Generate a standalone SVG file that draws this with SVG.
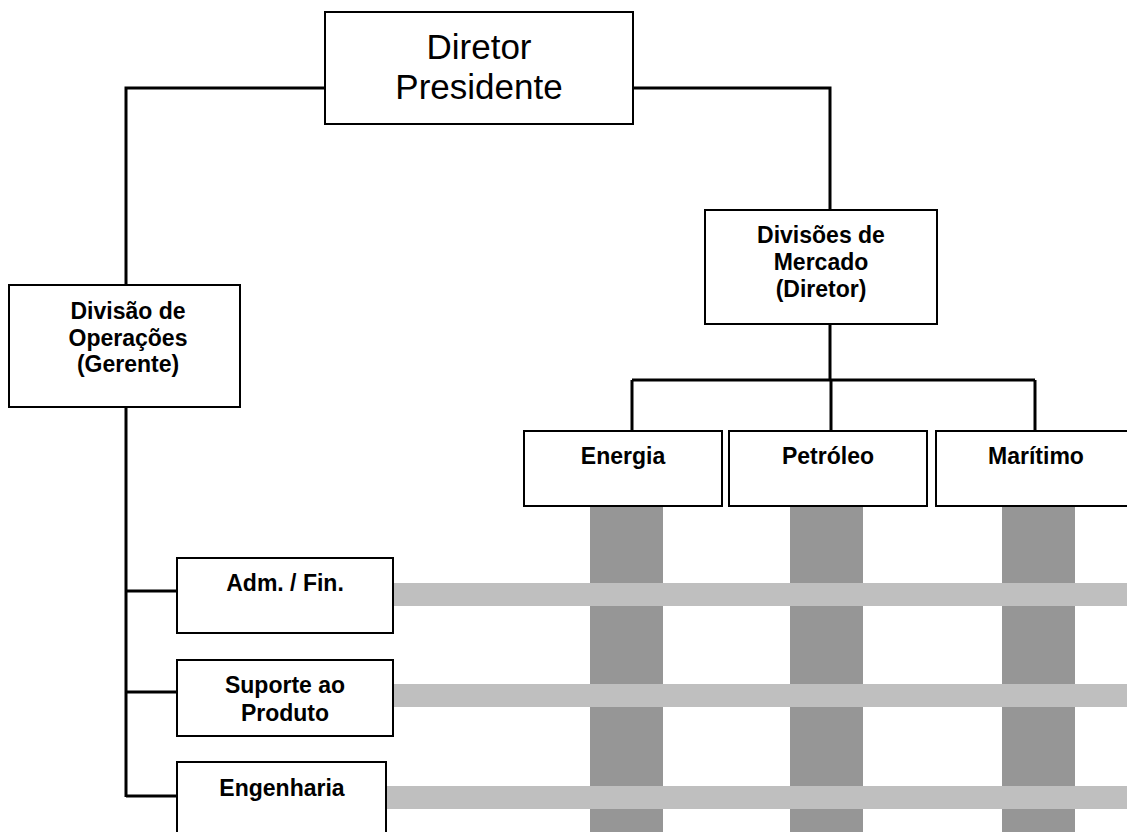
<svg xmlns="http://www.w3.org/2000/svg" width="1127" height="832" viewBox="0 0 1127 832">
  <style>
    .box { fill: #ffffff; stroke: #000000; stroke-width: 2; }
    .link { fill: none; stroke: #000000; stroke-width: 3; }
    .col { fill: #969696; }
    .row { fill: #bfbfbf; }
    .title { font-family: "Liberation Sans", Arial, sans-serif; font-size: 35px; fill: #000000; text-anchor: middle; }
    .label { font-family: "Liberation Sans", Arial, sans-serif; font-size: 23px; font-weight: bold; fill: #000000; text-anchor: middle; }
  </style>

  <!-- matrix: market columns crossed by function rows -->
  <g id="matrix">
    <rect class="col" x="590" y="507" width="73" height="325"/>
    <rect class="col" x="790" y="507" width="73" height="325"/>
    <rect class="col" x="1002" y="507" width="73" height="325"/>
    <rect class="row" x="392" y="583" width="735" height="23"/>
    <rect class="row" x="392" y="684" width="735" height="23"/>
    <rect class="row" x="386" y="786" width="741" height="23"/>
  </g>

  <!-- connectors -->
  <g id="connectors">
    <path class="link" d="M325 88 H126 V285"/>
    <path class="link" d="M633 88 H830 V210"/>
    <path class="link" d="M830 324 V380"/>
    <path class="link" d="M632 380 H1035"/>
    <path class="link" d="M632 380 V431"/>
    <path class="link" d="M831 380 V431"/>
    <path class="link" d="M1035 380 V431"/>
    <path class="link" d="M126 407 V797"/>
    <path class="link" d="M126 591 H177"/>
    <path class="link" d="M126 692 H177"/>
    <path class="link" d="M126 796 H177"/>
  </g>

  <g id="diretor-presidente">
    <rect class="box" x="325" y="12" width="308" height="112"/>
    <text class="title" x="479" y="59">Diretor</text>
    <text class="title" x="479" y="99">Presidente</text>
  </g>

  <g id="divisao-operacoes">
    <rect class="box" x="9" y="285" width="231" height="122"/>
    <text class="label" x="128" y="319">Divisão de</text>
    <text class="label" x="128" y="346">Operações</text>
    <text class="label" x="128" y="372">(Gerente)</text>
  </g>

  <g id="divisoes-mercado">
    <rect class="box" x="705" y="210" width="232" height="114"/>
    <text class="label" x="821" y="243">Divisões de</text>
    <text class="label" x="821" y="270">Mercado</text>
    <text class="label" x="821" y="297">(Diretor)</text>
  </g>

  <g id="energia">
    <rect class="box" x="524" y="431" width="198" height="75"/>
    <text class="label" x="623" y="464">Energia</text>
  </g>

  <g id="petroleo">
    <rect class="box" x="729" y="431" width="198" height="75"/>
    <text class="label" x="828" y="464">Petróleo</text>
  </g>

  <g id="maritimo">
    <rect class="box" x="936" y="431" width="198" height="75"/>
    <text class="label" x="1036" y="464">Marítimo</text>
  </g>

  <g id="adm-fin">
    <rect class="box" x="177" y="558" width="216" height="75"/>
    <text class="label" x="285" y="591">Adm. / Fin.</text>
  </g>

  <g id="suporte-produto">
    <rect class="box" x="177" y="660" width="216" height="76"/>
    <text class="label" x="285" y="693">Suporte ao</text>
    <text class="label" x="285" y="721">Produto</text>
  </g>

  <g id="engenharia">
    <rect class="box" x="177" y="762" width="209" height="80"/>
    <text class="label" x="282" y="796">Engenharia</text>
  </g>
</svg>
